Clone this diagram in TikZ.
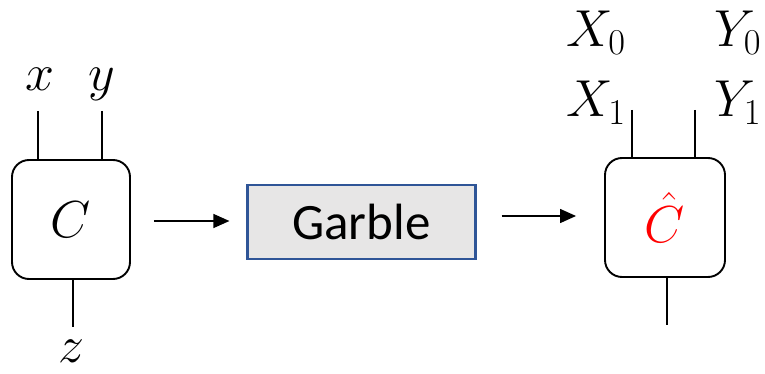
\RequirePackage{fix-cm}
\documentclass[tikz,border=0pt]{standalone}
\usepackage{fontspec}
\newfontfamily\carlito{Carlito}
\usetikzlibrary{arrows.meta}
\definecolor{gfill}{HTML}{E7E6E6}
\definecolor{gborder}{HTML}{2F5597}
\tikzset{
  gate/.style={draw=black, line width=1.9pt, rounded corners=17pt, minimum width=118pt, minimum height=119pt, inner sep=0pt, font=\fontsize{52}{62}\selectfont},
  garblebox/.style={draw=gborder, fill=gfill, line width=2.2pt, minimum width=228pt, minimum height=74pt, inner sep=0pt, font=\carlito\fontsize{51}{60}\selectfont},
  wire/.style={line width=1.9pt},
  arr/.style={line width=1.4pt, -{Triangle[length=16pt,width=14pt]}},
  lbl/.style={inner sep=0pt, font=\fontsize{52}{62}\selectfont}
}
\begin{document}
\begin{tikzpicture}[x=1pt,y=-1pt]
\useasboundingbox (0,0) rectangle (765,374);
% left gate
\node[gate] (C) at (71,219.5) {$C$};
\coordinate (xw) at (38,111);
\coordinate (yw) at (102,111);
\coordinate (zw) at (73,327);
\draw[wire] (xw) -- (xw |- C.north);
\draw[wire] (yw) -- (yw |- C.north);
\draw[wire] (zw |- C.south) -- (zw);
\node[lbl, anchor=base] (xl) at (40,91) {$x$};
\node[lbl, anchor=base] (yl) at (102,91) {$y$};
\node[lbl, anchor=base] (zl) at (71,362) {$z$};
% garble
\node[garblebox] (G) at (361.5,222) {Garble};
% right gate
\node[gate, minimum width=120pt] (H) at (665,217.5) {\raisebox{-8pt}{$\color{red}\hat{C}$}};
\coordinate (x1w) at (632,110);
\coordinate (y1w) at (695,110);
\coordinate (ow) at (667,325);
\draw[wire] (x1w) -- (x1w |- H.north);
\draw[wire] (y1w) -- (y1w |- H.north);
\draw[wire] (ow |- H.south) -- (ow);
\node[lbl, anchor=base west] (X0) at (566,47) {$X_0$};
\node[lbl, anchor=base west] (Y0) at (714,47) {$Y_0$};
\node[lbl, anchor=base west] (X1) at (566,117) {$X_1$};
\node[lbl, anchor=base west] (Y1) at (714,117) {$Y_1$};
% arrows
\draw[arr] ([xshift=23pt]C.east |- 0,221) -- ([xshift=-17pt]G.west |- 0,221);
\draw[arr] ([xshift=25pt]G.east |- 0,216) -- ([xshift=-28pt]H.west |- 0,216);
\end{tikzpicture}
\end{document}
